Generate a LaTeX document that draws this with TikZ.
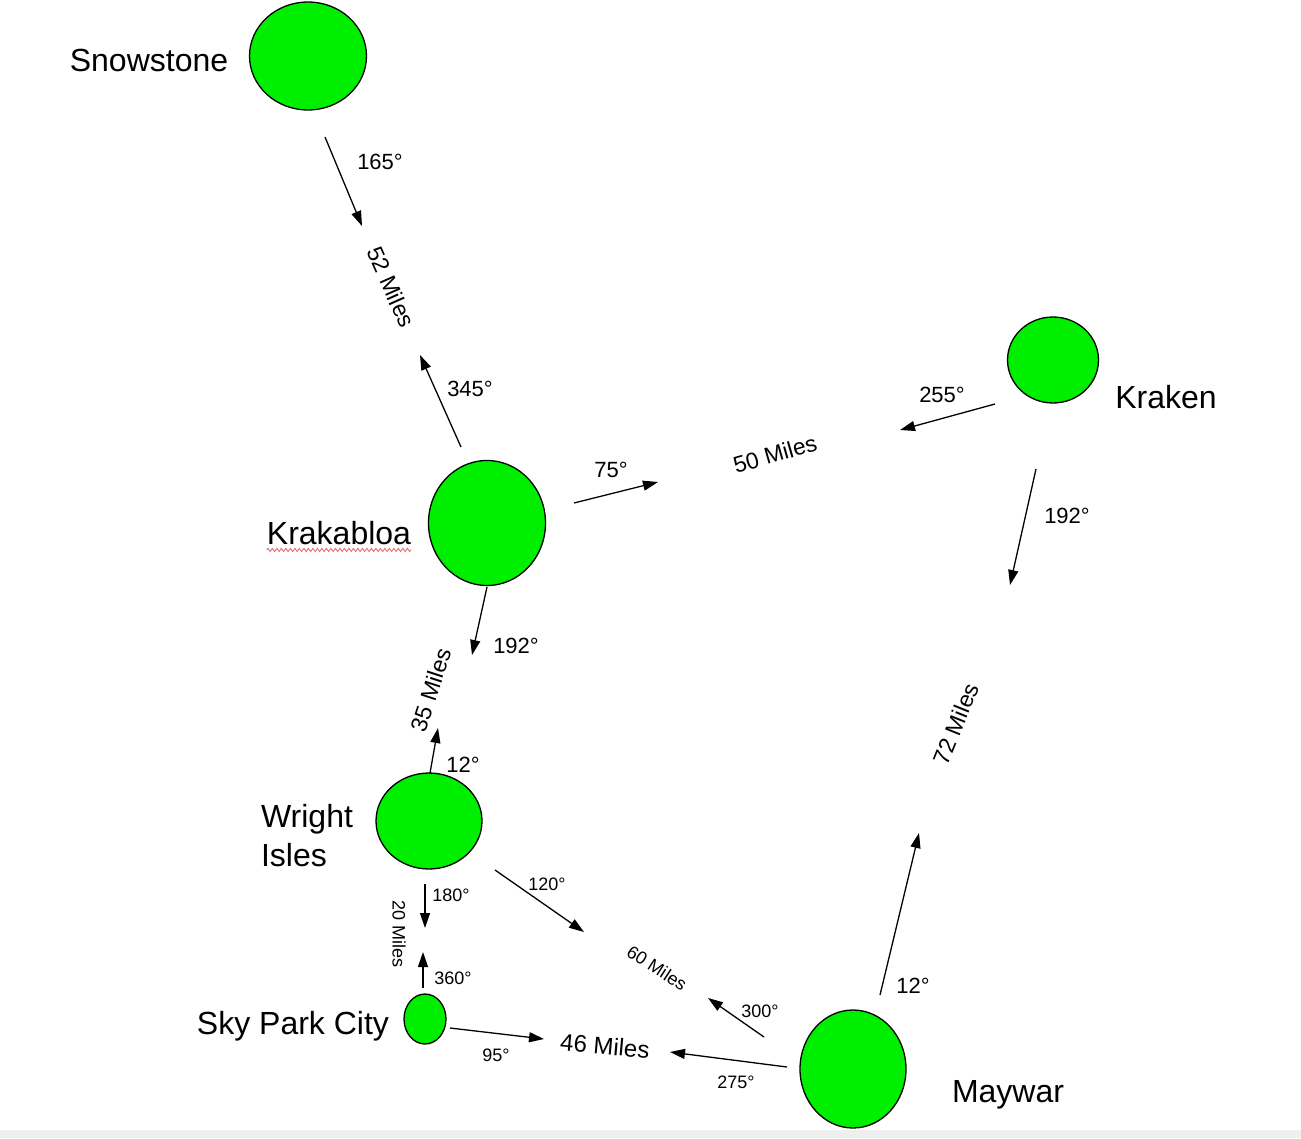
\documentclass[tikz,border=0pt]{standalone}
\usepackage{fontspec}
\setmainfont{Liberation Sans}
\usetikzlibrary{arrows.meta,shapes.geometric,decorations.pathmorphing}
\definecolor{town}{HTML}{00EE00}
\definecolor{ink}{HTML}{000000}
\definecolor{strip}{HTML}{EFEFEF}
\definecolor{spell}{HTML}{E06060}
\tikzset{
  city/.style={ellipse, draw=ink, fill=town, line width=1.3pt, inner sep=0pt},
  townlab/.style={text=ink, font=\fontsize{32}{39}\selectfont, inner sep=0pt},
  deglab/.style={text=ink, font=\fontsize{22}{26}\selectfont, inner sep=0pt},
  deglabs/.style={text=ink, font=\fontsize{18}{22}\selectfont, inner sep=0pt},
  milelab/.style={text=ink, font=\fontsize{23}{27}\selectfont, inner sep=0pt},
  milelabs/.style={text=ink, font=\fontsize{18}{22}\selectfont, inner sep=0pt},
  arr/.style={draw=ink, line width=1.3pt, -{Triangle[length=15pt,width=10pt]}},
}
\begin{document}
\begin{tikzpicture}[x=1pt,y=-1pt]
  \useasboundingbox (0,0) rectangle (1301,1138);
  \fill[strip] (0,1130) rectangle (1301,1138);
  % towns
  \node[city, minimum width=117pt, minimum height=108pt] (snow) at (308,56) {};
  \node[city, minimum width=91pt, minimum height=86pt] (kraken) at (1053,360) {};
  \node[city, minimum width=117pt, minimum height=125pt] (krak) at (487,523) {};
  \node[city, minimum width=106pt, minimum height=96pt] (wright) at (429,821) {};
  \node[city, minimum width=42pt, minimum height=50pt] (sky) at (425,1019) {};
  \node[city, minimum width=106pt, minimum height=118pt] (may) at (853,1069) {};
  \node[townlab] (snowlab) at (149,60) {Snowstone};
  \node[townlab] (krakenlab) at (1166,397) {Kraken};
  \node[townlab] (kraklab) at (339,533) {Krakabloa};
  \node[townlab, align=left] (wrightlab) at (307,836) {Wright\\Isles};
  \node[townlab] (skylab) at (293,1026) {Sky Park City};
  \node[townlab] (maylab) at (1008,1095) {Maywar};
  \draw[spell, line width=0.8pt, decorate, decoration={zigzag, amplitude=1.6pt, segment length=4.5pt}]
    (kraklab.south west) ++(0,5) -- ++(144,0);
  % headings
  \coordinate (s165a) at (325,137);  \coordinate (s165b) at (362,226);
  \coordinate (k345a) at (461,447);  \coordinate (k345b) at (420,355);
  \coordinate (k75a) at (574,503);   \coordinate (k75b) at (658,482);
  \coordinate (n255a) at (995,404);  \coordinate (n255b) at (900,430);
  \coordinate (n192a) at (1036,469); \coordinate (n192b) at (1010,585);
  \coordinate (m12a) at (880,995);   \coordinate (m12b) at (919,833);
  \coordinate (k192a) at (487,587);  \coordinate (k192b) at (472,655);
  \coordinate (w12a) at (430,773);   \coordinate (w12b) at (438,728);
  \coordinate (w180a) at (425,884);  \coordinate (w180b) at (425,928);
  \coordinate (s360a) at (423,988);  \coordinate (s360b) at (423,952);
  \coordinate (w120a) at (495,870);  \coordinate (w120b) at (584,932);
  \coordinate (m300a) at (764,1037); \coordinate (m300b) at (708,998);
  \coordinate (s95a) at (450,1028);  \coordinate (s95b) at (544,1039);
  \coordinate (m275a) at (787,1067); \coordinate (m275b) at (670,1052);
  \foreach \h in {s165,k345,k75,n255,n192,m12,k192,w12,w180,s360,w120,m300,s95,m275}
    \draw[arr] (\h a) -- (\h b);
  \node[deglab] (s165lab) at (380,162) {165°};
  \node[deglab] (k345lab) at (470,389) {345°};
  \node[deglab] (k75lab) at (611,470) {75°};
  \node[deglab] (n255lab) at (942,395) {255°};
  \node[deglab] (n192lab) at (1067,516) {192°};
  \node[deglab] (m12lab) at (913,986) {12°};
  \node[deglab] (k192lab) at (516,646) {192°};
  \node[deglab] (w12lab) at (463,765) {12°};
  \node[deglabs] (w180lab) at (451,895) {180°};
  \node[deglabs] (s360lab) at (453,978) {360°};
  \node[deglabs] (w120lab) at (547,884) {120°};
  \node[deglabs] (m300lab) at (760,1011) {300°};
  \node[deglabs] (s95lab) at (496,1055) {95°};
  \node[deglabs] (m275lab) at (736,1082) {275°};
  % distances
  \node[milelab, rotate=-66] (d52) at (391,287) {52 Miles};
  \node[milelab, rotate=16] (d50) at (775,454) {50 Miles};
  \node[milelab, rotate=68] (d72) at (956,724) {72 Miles};
  \node[milelab, rotate=72] (d35) at (431,690) {35 Miles};
  \node[milelabs, rotate=-90] (d20) at (399,934) {20 Miles};
  \node[milelabs, rotate=-33] (d60) at (657,968) {60 Miles};
  \node[milelab, font=\fontsize{24}{28}\selectfont, rotate=-5] (d46) at (605,1046) {46 Miles};
\end{tikzpicture}
\end{document}
